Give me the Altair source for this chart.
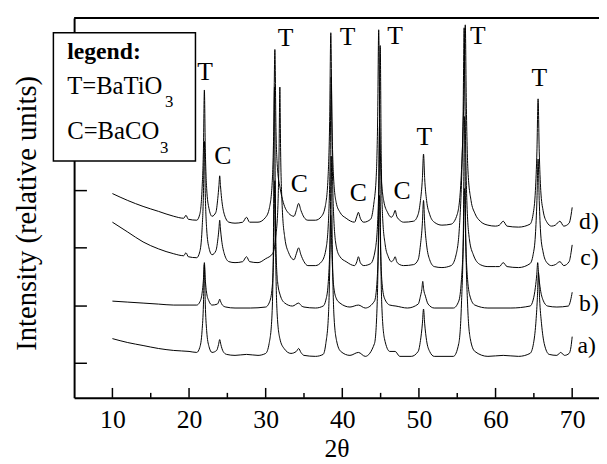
import altair as alt
import pandas as pd

# ---------------- data ----------------
THETA_TICKS = [10, 20, 30, 40, 50, 60, 70]
MINOR_TICKS = [15, 25, 35, 45, 55, 65]
Y_TICKS = [35, 93, 152, 210]

# (2theta, stacked intensity in relative units)
curve_d = [(10, 207), (12, 200), (14, 194), (16, 189), (18, 184), (19.3, 182), (19.6, 185), (19.9, 181), (21.0, 180),
           (21.4, 186), (21.7, 212), (21.88, 253), (22.0, 312), (22.12, 253), (22.3, 212), (22.6, 192), (23.0, 184),
           (23.5, 188), (23.75, 202), (23.9, 215), (24.0, 225), (24.1, 215), (24.25, 202), (24.6, 186), (25.2, 178),
           (26.0, 177), (27.0, 178), (27.5, 183), (27.9, 178), (29.0, 178), (30.0, 183),
           (30.5, 193), (30.85, 218), (31.05, 270), (31.2, 353), (31.35, 270), (31.55, 232), (31.9, 212), (32.3, 198),
           (33.0, 187), (33.7, 184), (34.0, 190), (34.3, 197), (34.6, 190), (35.0, 183), (35.5, 180), (36.5, 180),
           (37.3, 184), (37.8, 195), (38.15, 225), (38.35, 280), (38.5, 370), (38.65, 280), (38.85, 225), (39.2, 198),
           (39.7, 188), (40.5, 182), (41.6, 178), (41.9, 184), (42.1, 188), (42.35, 182), (42.8, 178), (43.7, 181),
           (44.1, 196), (44.45, 228), (44.62, 285), (44.75, 373), (44.88, 285), (45.05, 228), (45.4, 200), (45.9, 188),
           (46.4, 183), (46.7, 186), (46.9, 190), (47.1, 184), (47.5, 180), (48.0, 178), (49.3, 179),
           (49.9, 186), (50.2, 200), (50.45, 222), (50.6, 247), (50.75, 222), (51.0, 200), (51.4, 186), (52.0, 178),
           (53.0, 175), (54.2, 176), (55.0, 186), (55.45, 215), (55.75, 270), (55.92, 320), (56.05, 378), (56.18, 300),
           (56.4, 230), (56.8, 200), (57.3, 187), (58.0, 179), (59.0, 175), (60.0, 174), (60.5, 175), (61.0, 179),
           (61.5, 174), (63.0, 173), (64.5, 176), (64.9, 186), (65.2, 210), (65.4, 250), (65.55, 303), (65.7, 250),
           (65.9, 210), (66.2, 190), (66.7, 178), (67.3, 174), (67.8, 175), (68.4, 179), (68.9, 174), (69.6, 177),
           (69.85, 185), (70.0, 193)]

curve_c = [(10, 178), (12, 168), (14, 158), (16, 151), (18, 146), (19.3, 144), (19.6, 147), (19.9, 143), (21.0, 142),
           (21.4, 148), (21.7, 171), (21.88, 207), (22.0, 260), (22.12, 207), (22.3, 171), (22.6, 152), (23.0, 145),
           (23.5, 149), (23.75, 160), (23.9, 171), (24.0, 180), (24.1, 171), (24.25, 160), (24.6, 146), (25.2, 138),
           (26.0, 137), (27.0, 138), (27.5, 143), (27.9, 138), (29.0, 137), (30.0, 141),
           (30.9, 146), (31.3, 162), (31.6, 195), (31.75, 250), (31.85, 315), (31.95, 250), (32.15, 195), (32.5, 162),
           (33.0, 147), (33.7, 140), (34.0, 146), (34.3, 152), (34.6, 145), (35.0, 138), (35.5, 134), (36.5, 134),
           (37.3, 138), (37.85, 150), (38.2, 180), (38.4, 235), (38.55, 325), (38.7, 235), (38.9, 180), (39.25, 152),
           (39.7, 143), (40.5, 138), (41.6, 134), (41.9, 138), (42.1, 143), (42.35, 137), (42.8, 134), (43.7, 136),
           (44.3, 150), (44.65, 185), (44.82, 245), (44.95, 357), (45.08, 245), (45.25, 185), (45.6, 155), (46.0, 143),
           (46.4, 138), (46.7, 140), (46.9, 143), (47.1, 138), (47.5, 135), (48.0, 134), (49.3, 135),
           (49.9, 140), (50.2, 155), (50.45, 177), (50.6, 200), (50.75, 177), (51.0, 155), (51.4, 140), (52.0, 133),
           (53.0, 132), (54.2, 134), (54.85, 145), (55.3, 175), (55.6, 230), (55.77, 290), (55.9, 375), (56.03, 290),
           (56.25, 200), (56.6, 160), (57.1, 145), (58.0, 135), (59.0, 133), (60.0, 133), (60.5, 133), (61.0, 137),
           (61.5, 133), (63.0, 132), (64.5, 136), (64.9, 145), (65.2, 165), (65.4, 200), (65.55, 242), (65.7, 200),
           (65.9, 165), (66.2, 148), (66.7, 137), (67.3, 134), (67.8, 135), (68.4, 138), (68.9, 134), (69.6, 138),
           (69.85, 147), (70.0, 155)]

curve_b = [(10, 98), (12, 97), (14, 96), (16, 95), (18, 94), (20, 94), (21.0, 94),
           (21.4, 97), (21.7, 106), (21.88, 120), (22.0, 137), (22.12, 120), (22.3, 106), (22.6, 98), (23.0, 94),
           (23.7, 95), (23.9, 98), (24.0, 100), (24.1, 98), (24.35, 94), (24.8, 92), (26.0, 91), (28.0, 91), (30.0, 92),
           (30.5, 97), (30.85, 112), (31.05, 150), (31.2, 220), (31.35, 150), (31.55, 118), (31.9, 104), (32.5, 96),
           (33.5, 93), (34.3, 96), (34.7, 93), (35.0, 92), (36.5, 91), (37.5, 93),
           (37.85, 99), (38.15, 115), (38.35, 145), (38.5, 185), (38.65, 145), (38.85, 115), (39.2, 101), (39.7, 96),
           (41.0, 92), (42.1, 94), (43.0, 91), (44.2, 98), (44.55, 120), (44.72, 155), (44.85, 205), (44.98, 155),
           (45.15, 120), (45.5, 101), (46.2, 94), (47.0, 93), (48.5, 91), (49.9, 95), (50.2, 103), (50.38, 110),
           (50.5, 118), (50.62, 110), (50.85, 103), (51.2, 95), (52.0, 91), (54.5, 91), (55.2, 98), (55.55, 120),
           (55.8, 160), (55.95, 212), (56.1, 160), (56.35, 120), (56.7, 102), (57.3, 94), (59.0, 91), (62.0, 91),
           (64.5, 93), (64.9, 99), (65.2, 112), (65.38, 125), (65.5, 137), (65.62, 125), (65.85, 110), (66.2, 99),
           (66.8, 93), (68.0, 92), (69.5, 93), (69.8, 99), (70.0, 107)]

curve_a = [(10, 60), (12, 56), (14, 53), (16, 50), (18, 48), (20, 47), (21.0, 46),
           (21.4, 51), (21.7, 68), (21.88, 95), (22.0, 135), (22.12, 95), (22.3, 68), (22.6, 52), (23.0, 46),
           (23.6, 48), (23.85, 54), (24.0, 59), (24.15, 54), (24.45, 47), (24.9, 44), (26.0, 43), (27.5, 44),
           (29.0, 43), (30.0, 45), (30.45, 55), (30.8, 80), (31.0, 150), (31.15, 315), (31.3, 150), (31.5, 85),
           (31.85, 60), (32.4, 50), (33.3, 45), (34.0, 47), (34.3, 50), (34.6, 46), (35.0, 43), (36.5, 42), (37.5, 44),
           (37.85, 55), (38.2, 85), (38.4, 150), (38.55, 245), (38.7, 150), (38.9, 85), (39.25, 58), (39.8, 47),
           (41.0, 43), (42.1, 46), (43.0, 42), (44.2, 55), (44.55, 95), (44.72, 170), (44.85, 275), (44.98, 170),
           (45.15, 95), (45.5, 60), (46.2, 47), (46.9, 47), (47.5, 42), (49.0, 42), (49.9, 47), (50.2, 58),
           (50.45, 75), (50.6, 90), (50.75, 75), (51.0, 58), (51.4, 47), (52.0, 42), (54.5, 42), (55.2, 55),
           (55.55, 95), (55.8, 170), (55.95, 285), (56.1, 170), (56.35, 95), (56.7, 60), (57.3, 47), (59.0, 42),
           (61.0, 43), (63.0, 42), (64.5, 45), (64.95, 55), (65.25, 75), (65.45, 100), (65.6, 127), (65.75, 100),
           (66.0, 75), (66.35, 55), (67.0, 44), (68.0, 43), (68.5, 46), (69.0, 43), (69.6, 45), (69.85, 52), (70.0, 62)]

SAMPLE_LABELS = ["a)", "b)", "c)", "d)"]
SAMPLE_LABEL_THETA = [70.7, 70.9, 71.05, 70.9]
SAMPLE_LABEL_Y = [52, 95, 142, 178]

PEAK_LABELS = ["T", "C", "T", "C", "T", "C", "T", "C", "T", "T", "T"]
PEAK_THETA = [22.1, 24.4, 32.6, 34.4, 40.7, 42.1, 46.9, 47.8, 50.7, 57.7, 65.7]
PEAK_Y = [330, 245, 365, 217, 366, 207, 367, 210, 264, 367, 324]

LEGEND_LINES = ["legend:", "T=BaTiO", "C=BaCO"]

# ---------------- build ----------------
rows = []
for name, pts in [("a", curve_a), ("b", curve_b), ("c", curve_c), ("d", curve_d)]:
    for i, (t, v) in enumerate(pts):
        rows.append({"sample": name, "theta": t, "intensity": v, "order": i})
df = pd.DataFrame(rows)

W, H = 532, 385
FONT = "'Liberation Serif', 'Times New Roman', Times, serif"
xscale = alt.Scale(domain=[5, 73.5], nice=False, zero=False)
yscale = alt.Scale(domain=[0, 385], nice=False, zero=False)
one = pd.DataFrame({"k": [0]})

lines = alt.Chart(df).mark_line(color="black", strokeWidth=1, interpolate="monotone").encode(
    x=alt.X("theta:Q", scale=xscale,
            axis=alt.Axis(values=THETA_TICKS, ticks=False, grid=False, labelFont=FONT, labelFontSize=26,
                          labelColor="black", labelPadding=9, domainColor="black", domainWidth=2,
                          title="2θ", titleFont=FONT, titleFontSize=26, titleFontWeight="normal",
                          titleColor="black", titlePadding=3)),
    y=alt.Y("intensity:Q", scale=yscale,
            axis=alt.Axis(labels=False, ticks=False, grid=False, domainColor="black", domainWidth=2, title=None)),
    detail="sample:N",
    order="order:Q",
)

major = alt.Chart(pd.DataFrame({"theta": THETA_TICKS})).mark_rule(color="black", strokeWidth=1.5).encode(
    x=alt.X("theta:Q", scale=xscale), y=alt.value(H), y2=alt.value(H - 10))
minor = alt.Chart(pd.DataFrame({"theta": MINOR_TICKS})).mark_rule(color="black", strokeWidth=1.5).encode(
    x=alt.X("theta:Q", scale=xscale), y=alt.value(H), y2=alt.value(H - 5))
yt = alt.Chart(pd.DataFrame({"intensity": Y_TICKS})).mark_rule(color="black", strokeWidth=1.5).encode(
    y=alt.Y("intensity:Q", scale=yscale), x=alt.value(0), x2=alt.value(13))
top = alt.Chart(one).mark_rule(color="black", strokeWidth=2).encode(
    x=alt.value(0), x2=alt.value(W), y=alt.value(0))

ytitle = alt.Chart(one).mark_text(font=FONT, fontSize=29, angle=270, align="center", baseline="middle",
                                  color="black").encode(
    x=alt.value(-48), y=alt.value(198), text=alt.value("Intensity (relative units)"))

peaks = alt.Chart(pd.DataFrame({"label": PEAK_LABELS, "theta": PEAK_THETA, "y": PEAK_Y})).mark_text(
    font=FONT, fontSize=26, align="center", baseline="middle", color="black").encode(
    x=alt.X("theta:Q", scale=xscale), y=alt.Y("y:Q", scale=yscale), text="label:N")

samples = alt.Chart(pd.DataFrame({"label": SAMPLE_LABELS, "theta": SAMPLE_LABEL_THETA, "y": SAMPLE_LABEL_Y})).mark_text(
    font=FONT, fontSize=24, align="left", baseline="middle", color="black").encode(
    x=alt.X("theta:Q", scale=xscale), y=alt.Y("y:Q", scale=yscale), text="label:N")

box = alt.Chart(one).mark_rect(fill="white", stroke="black", strokeWidth=1.5).encode(
    x=alt.value(-21), x2=alt.value(123), y=alt.value(15), y2=alt.value(145))
leg1 = alt.Chart(one).mark_text(font=FONT, fontSize=24, fontWeight="bold", align="left", baseline="alphabetic",
                                color="black").encode(x=alt.value(-7), y=alt.value(42), text=alt.value(LEGEND_LINES[0]))
leg2 = alt.Chart(one).mark_text(font=FONT, fontSize=25, align="left", baseline="alphabetic",
                                color="black").encode(x=alt.value(-7), y=alt.value(77), text=alt.value(LEGEND_LINES[1]))
leg2s = alt.Chart(one).mark_text(font=FONT, fontSize=17, align="left", baseline="alphabetic",
                                 color="black").encode(x=alt.value(92), y=alt.value(90), text=alt.value("3"))
leg3 = alt.Chart(one).mark_text(font=FONT, fontSize=25, align="left", baseline="alphabetic",
                                color="black").encode(x=alt.value(-7), y=alt.value(123), text=alt.value(LEGEND_LINES[2]))
leg3s = alt.Chart(one).mark_text(font=FONT, fontSize=17, align="left", baseline="alphabetic",
                                 color="black").encode(x=alt.value(87), y=alt.value(137), text=alt.value("3"))

chart = alt.layer(lines, major, minor, yt, top, ytitle, peaks, samples, box, leg1, leg2, leg2s, leg3, leg3s).properties(
    width=W, height=H,
    autosize=alt.AutoSizeParams(type="none"),
    padding={"left": 67, "top": 7, "right": 0, "bottom": 64},
    background="white",
).configure_view(stroke=None)

chart.save("out.html", embed_options={"renderer": "svg", "actions": False})
